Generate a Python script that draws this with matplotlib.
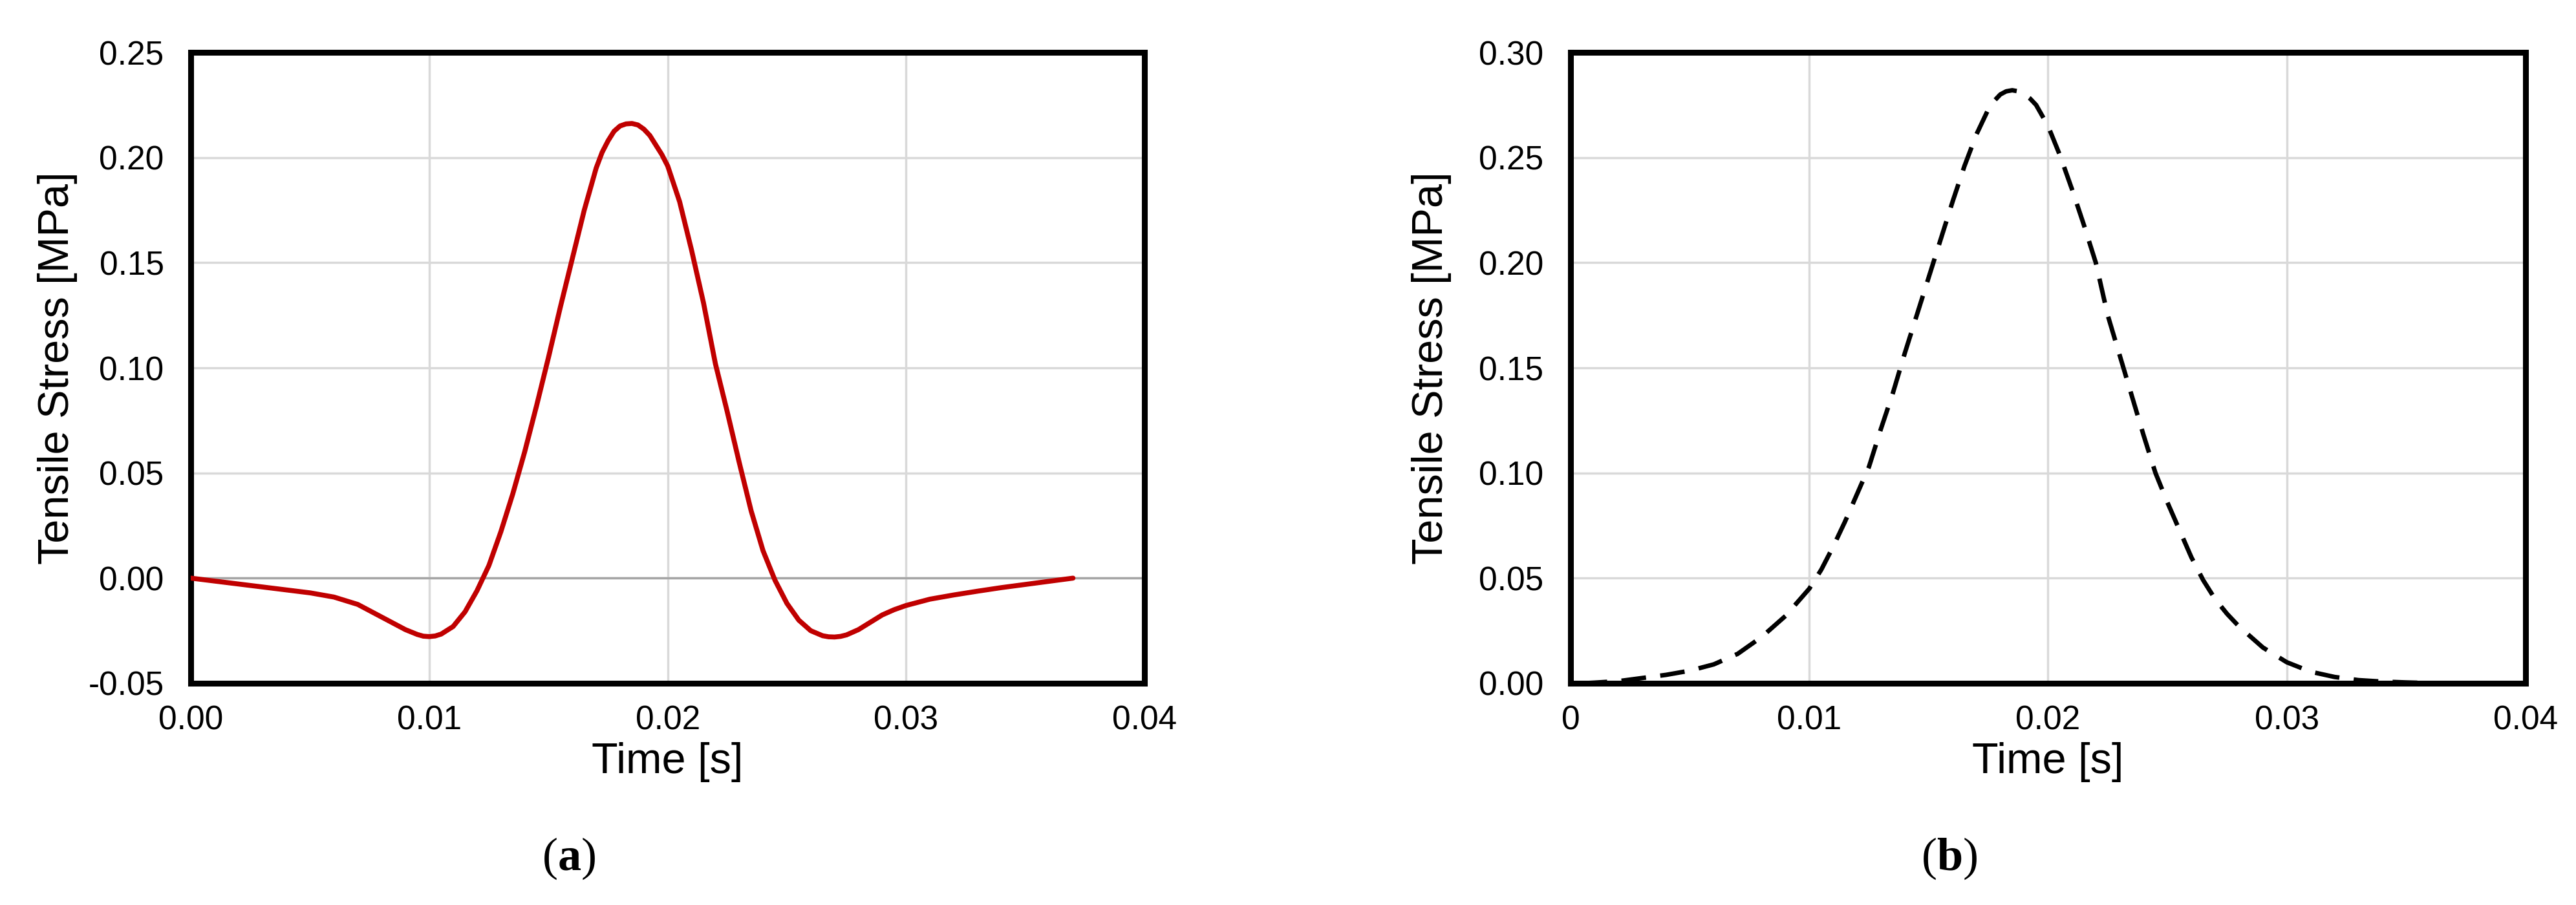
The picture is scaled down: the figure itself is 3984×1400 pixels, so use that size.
import matplotlib
matplotlib.use("Agg")
import matplotlib.pyplot as plt
from matplotlib.ticker import FixedLocator, FixedFormatter

plt.rcParams['font.family'] = ['Liberation Sans', 'DejaVu Sans']
plt.rcParams['mathtext.fontset'] = 'custom'
plt.rcParams['mathtext.rm'] = 'Liberation Serif'
plt.rcParams['mathtext.bf'] = 'Liberation Serif:bold'

# (a) measured tensile stress, red solid
time_a = [0.000, 0.001, 0.002, 0.003, 0.004, 0.005, 0.006, 0.007, 0.008, 0.009,
          0.0095, 0.00975, 0.010, 0.01025, 0.0105, 0.011, 0.0115, 0.012, 0.0125, 0.013,
          0.0135, 0.014, 0.0145, 0.015, 0.0155, 0.016, 0.0165, 0.017, 0.01725, 0.0175,
          0.01775, 0.018, 0.01825, 0.0185, 0.01875, 0.019, 0.01925, 0.0195, 0.01975, 0.020,
          0.0205, 0.021, 0.0215, 0.022, 0.0225, 0.023, 0.0235, 0.024, 0.0245, 0.025,
          0.0255, 0.026, 0.0265, 0.02675, 0.027, 0.02725, 0.0275, 0.028, 0.0285, 0.029,
          0.0295, 0.030, 0.031, 0.032, 0.033, 0.034, 0.035, 0.036, 0.037]
stress_a = [0.0000, -0.0014, -0.0028, -0.0042, -0.0056, -0.0070, -0.0090, -0.0125, -0.0185, -0.0245,
            -0.0268, -0.0276, -0.0278, -0.0275, -0.0266, -0.0230, -0.0160, -0.0060, 0.0060, 0.0220,
            0.0400, 0.0600, 0.0820, 0.1050, 0.1290, 0.1520, 0.1750, 0.1950, 0.2025, 0.2080,
            0.2125, 0.2150, 0.2160, 0.2162, 0.2155, 0.2135, 0.2105, 0.2060, 0.2015, 0.1960,
            0.1790, 0.1560, 0.1310, 0.1020, 0.0790, 0.0550, 0.0320, 0.0130, -0.0010, -0.0120,
            -0.0200, -0.0250, -0.0274, -0.0279, -0.0280, -0.0277, -0.0270, -0.0245, -0.0210, -0.0175,
            -0.0150, -0.0130, -0.0100, -0.0080, -0.0062, -0.0045, -0.0030, -0.0015, 0.0000]

# (b) tensile stress pulse, black dashed
time_b = [0.0005, 0.001, 0.002, 0.003, 0.004, 0.005, 0.006, 0.007, 0.008, 0.009,
          0.010, 0.0105, 0.011, 0.0115, 0.012, 0.0125, 0.013, 0.0135, 0.014, 0.0145,
          0.015, 0.0155, 0.016, 0.0165, 0.017, 0.0175, 0.01775, 0.018, 0.01825, 0.0185,
          0.01875, 0.019, 0.01925, 0.0195, 0.020, 0.0205, 0.021, 0.0215, 0.022, 0.0225,
          0.023, 0.0235, 0.024, 0.0245, 0.025, 0.0255, 0.026, 0.0265, 0.027, 0.0275,
          0.028, 0.029, 0.030, 0.031, 0.032, 0.033, 0.034, 0.035, 0.036, 0.037]
stress_b = [0.0000, 0.0003, 0.0010, 0.0025, 0.0040, 0.0060, 0.0090, 0.0140, 0.0220, 0.0320,
            0.0450, 0.0540, 0.0650, 0.0770, 0.0900, 0.1030, 0.1210, 0.1380, 0.1570, 0.1750,
            0.1930, 0.2110, 0.2290, 0.2460, 0.2610, 0.2730, 0.2770, 0.2800, 0.2815, 0.2820,
            0.2815, 0.2800, 0.2780, 0.2750, 0.2650, 0.2510, 0.2350, 0.2180, 0.2000, 0.1750,
            0.1560, 0.1370, 0.1180, 0.1000, 0.0860, 0.0730, 0.0600, 0.0490, 0.0400, 0.0330,
            0.0270, 0.0170, 0.0100, 0.0055, 0.0030, 0.0015, 0.0008, 0.0004, 0.0001, 0.0000]

xticks = [0.00, 0.01, 0.02, 0.03, 0.04]
xlabels_a = ["0.00", "0.01", "0.02", "0.03", "0.04"]
xlabels_b = ["0", "0.01", "0.02", "0.03", "0.04"]
yticks_a = [-0.05, 0.00, 0.05, 0.10, 0.15, 0.20, 0.25]
yticks_b = [0.00, 0.05, 0.10, 0.15, 0.20, 0.25, 0.30]

fig = plt.figure(figsize=(39.84, 14), dpi=100)
ax1 = fig.add_axes([0.0741, 0.245, 0.3702, 0.6971])
ax2 = fig.add_axes([0.6097, 0.245, 0.3707, 0.6971])

grid_c = '#d9d9d9'


def style(ax, yticks, xlabels, ypad):
    ax.set_xlim(0, 0.04)
    ax.set_ylim(yticks[0], yticks[-1])
    ax.xaxis.set_major_locator(FixedLocator(xticks))
    ax.xaxis.set_major_formatter(FixedFormatter(xlabels))
    ax.yaxis.set_major_locator(FixedLocator(yticks))
    ax.yaxis.set_major_formatter(FixedFormatter(["%.2f" % v for v in yticks]))
    for x in xticks[1:-1]:
        ax.axvline(x, color=grid_c, lw=2.5, zorder=0)
    for y in yticks[1:-1]:
        ax.axhline(y, color=grid_c, lw=2.5, zorder=0)
    for s in ax.spines.values():
        s.set_linewidth(6.5)
        s.set_color('black')
    ax.tick_params(axis='both', length=0, labelsize=37)
    ax.tick_params(axis='x', pad=24)
    ax.tick_params(axis='y', pad=30)
    ax.set_xlabel("Time [s]", fontsize=48, labelpad=6)
    ax.set_ylabel("Tensile Stress [MPa]", fontsize=48, labelpad=ypad)


style(ax1, yticks_a, xlabels_a, 12)
style(ax2, yticks_b, xlabels_b, 30)

ax1.axhline(0, color='#a6a6a6', lw=2.5, zorder=1)
ax1.plot(time_a, stress_a, color='#c00000', lw=5.5, solid_joinstyle='round',
         solid_capstyle='round', zorder=3)
ax2.plot(time_b, stress_b, color='black', lw=5, linestyle=(0, (5.5, 3.2)), zorder=3)

fig.text(880 / 3984, 1 - 1328 / 1400, r"$\mathrm{(}\mathbf{a}\mathrm{)}$",
         fontsize=52, ha='center', va='center')
fig.text(3015 / 3984, 1 - 1328 / 1400, r"$\mathrm{(}\mathbf{b}\mathrm{)}$",
         fontsize=52, ha='center', va='center')

fig.savefig("out.png", dpi=100)
